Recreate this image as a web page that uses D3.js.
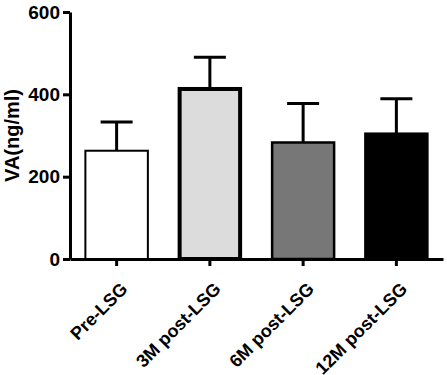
<!DOCTYPE html>
<html>
<head>
<meta charset="utf-8">
<script src="https://cdn.jsdelivr.net/npm/d3@7"></script>
<style>
  body { margin: 0; background: #fff; }
  svg text { font-family: "Liberation Sans", Arial, sans-serif; font-weight: bold; }
</style>
</head>
<body>
<svg width="447" height="375"></svg>
<script>
const groups = ['Pre-LSG', '3M post-LSG', '6M post-LSG', '12M post-LSG'];
const means = [263, 413, 283, 305];
const sds = [70, 77, 95, 84];
const fills = ['#ffffff', '#dcdcdc', '#777777', '#000000'];
const yTicks = [0, 200, 400, 600];

const svg = d3.select('svg');
const margin = {top: 12, right: 4, bottom: 116, left: 70};
const innerWidth = +svg.attr('width') - margin.left - margin.right;
const innerHeight = +svg.attr('height') - margin.top - margin.bottom;

const g = svg.append('g')
    .attr('transform', `translate(${margin.left},${margin.top})`);

const xScale = d3.scaleBand()
    .domain(groups)
    .range([0, innerWidth])
    .paddingInner(0.33)
    .paddingOuter(0.165);

const yScale = d3.scaleLinear()
    .domain([0, 600])
    .range([innerHeight, 0]);

// error bars (drawn first, bar covers the lower part)
const err = g.selectAll('.err')
    .data(groups)
    .enter().append('g');

err.append('line')
    .attr('x1', d => xScale(d) + xScale.bandwidth() / 2)
    .attr('x2', d => xScale(d) + xScale.bandwidth() / 2)
    .attr('y1', (d, i) => yScale(means[i]))
    .attr('y2', (d, i) => yScale(means[i] + sds[i]))
    .attr('stroke', 'black')
    .attr('stroke-width', 3);

err.append('line')
    .attr('x1', d => xScale(d) + xScale.bandwidth() / 2 - 16)
    .attr('x2', d => xScale(d) + xScale.bandwidth() / 2 + 16)
    .attr('y1', (d, i) => yScale(means[i] + sds[i]))
    .attr('y2', (d, i) => yScale(means[i] + sds[i]))
    .attr('stroke', 'black')
    .attr('stroke-width', 3);

// bars
const strokeW = [2, 4, 2.5, 2];
g.selectAll('rect')
    .data(groups)
    .enter().append('rect')
    .attr('x', (d, i) => xScale(d) + strokeW[i] / 2 - 1)
    .attr('y', (d, i) => yScale(means[i]))
    .attr('width', (d, i) => xScale.bandwidth() - strokeW[i] + 2)
    .attr('height', (d, i) => innerHeight - yScale(means[i]))
    .attr('fill', (d, i) => fills[i])
    .attr('stroke', 'black')
    .attr('stroke-width', (d, i) => strokeW[i]);

// y axis
const yAxisG = g.append('g')
    .call(d3.axisLeft(yScale).tickValues(yTicks).tickSize(7).tickSizeOuter(0).tickPadding(3));
yAxisG.select('.domain').attr('stroke-width', 3);
yAxisG.selectAll('.tick line').attr('stroke-width', 3);
yAxisG.selectAll('.tick text').attr('font-size', 19).attr('fill', 'black');

// x axis
const xAxisG = g.append('g')
    .attr('transform', `translate(0,${innerHeight})`)
    .call(d3.axisBottom(xScale).tickSize(7).tickSizeOuter(0));
xAxisG.select('.domain').attr('stroke-width', 3);
xAxisG.selectAll('.tick line').attr('stroke-width', 3);
xAxisG.selectAll('.tick text')
    .attr('font-size', 18)
    .attr('fill', 'black')
    .attr('y', 0)
    .attr('dy', 0)
    .attr('transform', 'translate(12,31) rotate(-45)')
    .style('text-anchor', 'end');

// y axis title
svg.append('text')
    .attr('transform', `translate(19,${margin.top + innerHeight / 2}) rotate(-90)`)
    .attr('text-anchor', 'middle')
    .attr('font-size', 20)
    .text('VA(ng/ml)');
</script>
</body>
</html>
